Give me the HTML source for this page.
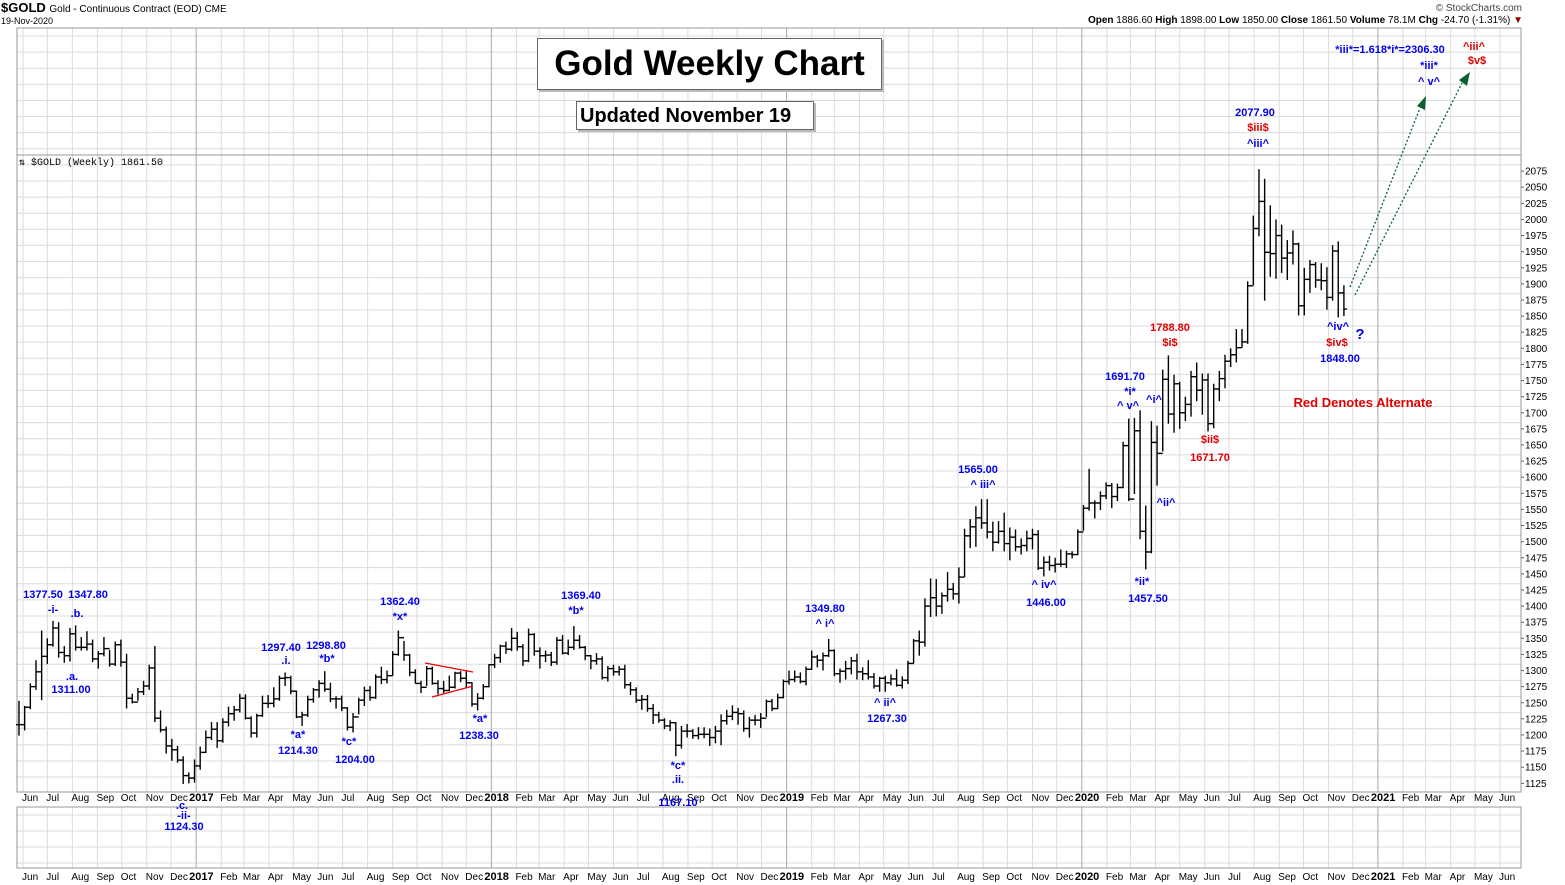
<!DOCTYPE html>
<html><head><meta charset="utf-8">
<style>
body{margin:0;background:#fff;width:1565px;height:885px;overflow:hidden;position:relative;font-family:"Liberation Sans",sans-serif}
.t{position:absolute;white-space:nowrap}
.ann{position:absolute;white-space:nowrap;font:bold 11px "Liberation Sans",sans-serif;color:#0000ee;transform:translateX(-50%)}
.red{color:#e00000}
</style></head><body>
<div class="t" style="left:1px;top:0px;font:bold 13px 'Liberation Sans',sans-serif">$GOLD <span style="font-weight:normal;font-size:10px">Gold - Continuous Contract (EOD) CME</span></div>
<div class="t" style="left:1px;top:16px;font-size:9px">19-Nov-2020</div>
<div class="t" style="right:43px;top:3px;font-size:10px;color:#444">© StockCharts.com</div>
<div class="t" style="right:42px;top:15px;font-size:10px"><b>Open</b> 1886.60 <b>High</b> 1898.00 <b>Low</b> 1850.00 <b>Close</b> 1861.50 <b>Volume</b> 78.1M <b>Chg</b> -24.70 (-1.31%) <span style="color:#900">▼</span></div>
<svg id="chart" width="1565" height="885" style="position:absolute;left:0;top:0"></svg>
<div class="t" style="left:537px;top:38px;width:343px;height:50px;border:1px solid #666;box-shadow:2px 2px 0 #bbb;background:#fff;font:bold 35px 'Liberation Sans',sans-serif;text-align:center;line-height:50px">Gold Weekly Chart</div>
<div class="t" style="left:576px;top:101px;width:238px;height:29px;border:1px solid #666;box-shadow:2px 2px 0 #bbb;background:#fff;font:bold 20px 'Liberation Sans',sans-serif;line-height:29px;padding-left:3px;box-sizing:border-box">Updated November 19</div>
<div class="t" style="left:19px;top:157px;font:10px 'Liberation Mono',monospace">⇅ $GOLD (Weekly) 1861.50</div>
<script>
const closes=[1216,1243,1275,1298,1322,1340,1366,1328,1323,1357,1336,1336,1341,1318,1326,1334,1310,1340,1313,1257,1251,1267,1276,1304,1226,1208,1183,1177,1161,1137,1133,1152,
1173,1196,1209,1191,1220,1233,1239,1257,1226,1203,1230,1249,1249,1256,1288,1289,1268,1228,1231,1255,1270,1280,1271,1256,1256,1242,1212,1228,1254,1269,1258,1290,1286,1292,1325,1351,1324,1297,1280,1274,1303,1280,1272,1269,1274,1296,1288,1281,1248,1257,1275,1309,
1320,1338,1333,1350,1337,1315,1356,1330,1323,1324,1313,1347,1327,1336,1347,1336,1323,1315,1318,1289,1303,1298,1302,1278,1270,1254,1255,1241,1231,1223,1214,1219,1184,1206,1206,1199,1201,1201,1196,1206,1222,1229,1235,1233,1210,1223,1223,1226,1252,1241,1258,1283,
1286,1290,1283,1302,1321,1316,1323,1331,1295,1299,1303,1315,1298,1295,1290,1276,1288,1281,1287,1277,1285,1311,1346,1344,1400,1413,1400,1416,1426,1419,1445,1509,1523,1537,1529,1515,1499,1516,1497,1507,1492,1494,1505,1511,1459,1468,1463,1465,1465,1481,1480,1515,
1552,1560,1560,1571,1587,1570,1584,1649,1566,1672,1516,1484,1654,1637,1752,1698,1745,1700,1713,1756,1735,1751,1683,1737,1753,1780,1790,1801,1810,1897,1986,2028,1949,1947,1975,1940,1948,1962,1866,1907,1930,1906,1905,1879,1951,1886,1861];
const highs=[1253,1245,1280,1316,1362,1350,1377,1375,1338,1366,1370,1352,1361,1348,1330,1352,1332,1345,1348,1326,1264,1273,1284,1309,1338,1238,1213,1194,1183,1167,1142,1162,
1182,1207,1220,1220,1226,1244,1245,1264,1263,1229,1233,1261,1262,1274,1292,1297,1292,1269,1236,1261,1273,1285,1299,1281,1260,1261,1243,1234,1258,1275,1276,1294,1306,1300,1330,1362,1346,1326,1302,1284,1307,1306,1285,1284,1292,1298,1299,1299,1282,1265,1279,1310,
1326,1340,1345,1366,1360,1341,1365,1358,1336,1331,1329,1352,1355,1348,1369,1355,1338,1324,1327,1322,1307,1309,1307,1309,1282,1274,1262,1262,1248,1236,1226,1223,1220,1214,1217,1209,1212,1212,1210,1214,1232,1239,1246,1242,1238,1228,1231,1234,1255,1256,1264,1286,
1300,1300,1297,1306,1331,1324,1328,1349,1333,1303,1315,1321,1326,1305,1316,1296,1290,1292,1294,1302,1291,1315,1349,1362,1412,1443,1442,1421,1453,1436,1460,1520,1535,1555,1566,1566,1531,1532,1545,1522,1519,1505,1517,1520,1518,1477,1478,1475,1488,1486,1485,1519,
1557,1613,1564,1578,1592,1591,1590,1655,1691,1692,1704,1556,1687,1680,1767,1789,1759,1748,1725,1765,1778,1761,1761,1745,1765,1790,1800,1830,1830,1904,2006,2078,2063,2022,2000,1992,1968,1983,1964,1925,1937,1934,1932,1926,1960,1966,1898];
const lows=[1199,1207,1240,1270,1254,1310,1337,1320,1312,1314,1331,1331,1331,1313,1303,1322,1306,1307,1306,1241,1249,1253,1262,1270,1220,1204,1171,1160,1157,1124,1125,1126,
1146,1172,1192,1180,1188,1213,1222,1235,1224,1196,1196,1228,1242,1243,1253,1276,1263,1226,1214,1228,1250,1258,1267,1251,1241,1237,1207,1204,1232,1245,1253,1256,1279,1280,1292,1323,1315,1291,1280,1265,1276,1278,1263,1265,1268,1272,1282,1274,1244,1238,1255,1274,
1304,1312,1326,1330,1331,1307,1313,1323,1303,1313,1307,1309,1325,1324,1332,1334,1316,1302,1309,1286,1283,1292,1292,1272,1262,1250,1239,1236,1217,1219,1209,1206,1167,1179,1196,1194,1193,1195,1183,1187,1184,1216,1223,1216,1205,1196,1215,1211,1228,1237,1240,1257,
1278,1282,1280,1277,1301,1305,1300,1321,1291,1281,1286,1294,1286,1285,1286,1272,1267,1267,1277,1275,1272,1279,1311,1323,1337,1383,1384,1388,1407,1410,1404,1445,1490,1492,1520,1505,1485,1497,1485,1471,1485,1480,1485,1488,1456,1446,1455,1452,1461,1459,1474,1479,
1517,1548,1536,1549,1566,1552,1563,1583,1563,1574,1504,1457,1482,1587,1640,1683,1669,1675,1687,1694,1718,1697,1671,1676,1718,1738,1771,1778,1801,1807,1898,1974,1874,1911,1908,1917,1906,1930,1851,1851,1886,1894,1890,1860,1874,1848,1850];
const priceTicks=[1125,1150,1175,1200,1225,1250,1275,1300,1325,1350,1375,1400,1425,1450,1475,1500,1525,1550,1575,1600,1625,1650,1675,1700,1725,1750,1775,1800,1825,1850,1875,1900,1925,1950,1975,2000,2025,2050,2075];
const monthNames=["Jan","Feb","Mar","Apr","May","Jun","Jul","Aug","Sep","Oct","Nov","Dec"];

const svg=document.getElementById('chart');
const NS='http://www.w3.org/2000/svg';
const L=17,R=1521,TOP=28,BOT=792;
const start=Date.UTC(2016,4,27), WEEK=7*864e5, X0=19, STEP=5.662;
function y(v){return 783.3-(v-1125)*0.6444;}
function xi(i){return X0+i*STEP;}
function xd(t){return X0+(t-start)/WEEK*STEP;}
function mk(tag,attrs,parent){const e=document.createElementNS(NS,tag);for(const k in attrs)e.setAttribute(k,attrs[k]);(parent||svg).appendChild(e);return e;}

const grid=mk('g',{stroke:'#dcdcdc','stroke-width':1});


for(let gy=TOP+8;gy<BOT;gy+=16.11){mk('line',{x1:L,x2:R,y1:gy,y2:gy},grid);}
for(let gy=815;gy<868;gy+=16){mk('line',{x1:L,x2:R,y1:gy,y2:gy},grid);}
const months=[];
for(let yr=2016;yr<=2021;yr++)for(let m=0;m<12;m++){const t=Date.UTC(yr,m,1);if(t<Date.UTC(2016,5,1)||t>Date.UTC(2021,5,1))continue;months.push({t,yr,m});}
months.forEach(mo=>{const x=xd(mo.t);const c=mo.m===0?'#aaa':'#dcdcdc';
mk('line',{x1:x,x2:x,y1:TOP,y2:BOT,stroke:c},svg);mk('line',{x1:x,x2:x,y1:807,y2:868,stroke:c},svg);});
mk('line',{x1:L,x2:R,y1:155,y2:155,stroke:'#999'});
const f1=mk('rect',{x:L,y:TOP,width:R-L,height:BOT-TOP,fill:'none',stroke:'#999'});


const f2=mk('rect',{x:L,y:807,width:R-L,height:61,fill:'none',stroke:'#999'});


priceTicks.forEach(p=>{const t=mk('text',{x:1525,y:y(p)+3.5,'font-size':10,'font-family':'Liberation Sans, sans-serif'});t.textContent=p;


mk('line',{x1:R,x2:R+3,y1:y(p),y2:y(p),stroke:'#666'});});
[801,880].forEach(ly=>{months.forEach(mo=>{const x=xd(mo.t);const isY=mo.m===0;const t=mk('text',{x:isY?x-7:x-1,y:ly,'font-size':isY?11:10,'font-weight':isY?'bold':'normal','font-family':'Liberation Sans, sans-serif'});
t.textContent=isY?mo.yr:monthNames[mo.m];

});});
const bars=mk('g',{stroke:'#000','stroke-width':1.4});


closes.forEach((c,i)=>{const x=xi(i);const o=i>0?closes[i-1]:c;
const g=mk('g',{},bars);


mk('line',{x1:x,x2:x,y1:y(highs[i]),y2:y(lows[i])},g);
mk('line',{x1:x-3,x2:x,y1:y(o),y2:y(o)},g);
mk('line',{x1:x,x2:x+3,y1:y(c),y2:y(c)},g);});
const tri=mk('g',{stroke:'#e00','stroke-width':1.2});


mk('line',{x1:425,y1:663,x2:473,y2:672},tri);mk('line',{x1:432,y1:697,x2:473,y2:686},tri);
const ar=mk('g',{stroke:'#0a6030','stroke-width':1.3,'stroke-dasharray':'2,2',fill:'none'});


mk('line',{x1:1350,y1:287,x2:1420,y2:108},ar);mk('line',{x1:1355,y1:295,x2:1462,y2:83},ar);
mk('polygon',{points:'1417,106 1426,96 1425,110',fill:'#0a6030',stroke:'none'});
mk('polygon',{points:'1459,80 1470,72 1467,86',fill:'#0a6030',stroke:'none'});
</script>
<div>
<div class="ann" style="left:43px;top:589px">1377.50</div>
<div class="ann" style="left:88px;top:589px">1347.80</div>
<div class="ann" style="left:53px;top:604px">-i-</div>
<div class="ann" style="left:77px;top:608px">.b.</div>
<div class="ann" style="left:72px;top:671px">.a.</div>
<div class="ann" style="left:71px;top:684px">1311.00</div>
<div class="ann" style="left:281px;top:642px">1297.40</div>
<div class="ann" style="left:286px;top:655px">.i.</div>
<div class="ann" style="left:326px;top:640px">1298.80</div>
<div class="ann" style="left:327px;top:653px">*b*</div>
<div class="ann" style="left:298px;top:729px">*a*</div>
<div class="ann" style="left:298px;top:745px">1214.30</div>
<div class="ann" style="left:349px;top:736px">*c*</div>
<div class="ann" style="left:355px;top:754px">1204.00</div>
<div class="ann" style="left:400px;top:596px">1362.40</div>
<div class="ann" style="left:400px;top:611px">*x*</div>
<div class="ann" style="left:480px;top:713px">*a*</div>
<div class="ann" style="left:479px;top:730px">1238.30</div>
<div class="ann" style="left:581px;top:590px">1369.40</div>
<div class="ann" style="left:576px;top:605px">*b*</div>
<div class="ann" style="left:678px;top:760px">*c*</div>
<div class="ann" style="left:678px;top:774px">.ii.</div>
<div class="ann" style="left:678px;top:797px">1167.10</div>
<div class="ann" style="left:182px;top:800px">.c.</div>
<div class="ann" style="left:184px;top:810px">-ii-</div>
<div class="ann" style="left:184px;top:821px">1124.30</div>
<div class="ann" style="left:825px;top:603px">1349.80</div>
<div class="ann" style="left:825px;top:618px">^ i^</div>
<div class="ann" style="left:885px;top:697px">^ ii^</div>
<div class="ann" style="left:887px;top:713px">1267.30</div>
<div class="ann" style="left:978px;top:464px">1565.00</div>
<div class="ann" style="left:983px;top:479px">^ iii^</div>
<div class="ann" style="left:1044px;top:579px">^ iv^</div>
<div class="ann" style="left:1046px;top:597px">1446.00</div>
<div class="ann" style="left:1125px;top:371px">1691.70</div>
<div class="ann" style="left:1130px;top:386px">*i*</div>
<div class="ann" style="left:1128px;top:400px">^ v^</div>
<div class="ann" style="left:1154px;top:394px">^i^</div>
<div class="ann" style="left:1166px;top:497px">^ii^</div>
<div class="ann" style="left:1142px;top:576px">*ii*</div>
<div class="ann" style="left:1148px;top:593px">1457.50</div>
<div class="ann red" style="left:1170px;top:322px">1788.80</div>
<div class="ann red" style="left:1170px;top:337px">$i$</div>
<div class="ann red" style="left:1210px;top:434px">$ii$</div>
<div class="ann red" style="left:1210px;top:452px">1671.70</div>
<div class="ann" style="left:1255px;top:107px">2077.90</div>
<div class="ann red" style="left:1258px;top:122px">$iii$</div>
<div class="ann" style="left:1258px;top:138px">^iii^</div>
<div class="ann" style="left:1338px;top:321px">^iv^</div>
<div class="ann red" style="left:1337px;top:337px">$iv$</div>
<div class="ann" style="left:1340px;top:353px">1848.00</div>
<div class="ann" style="left:1360px;top:326px;font-size:15px">?</div>
<div class="ann red" style="left:1363px;top:395px;font-size:13px">Red Denotes Alternate</div>
<div class="ann" style="left:1390px;top:44px">*iii*=1.618*i*=2306.30</div>
<div class="ann" style="left:1429px;top:60px">*iii*</div>
<div class="ann" style="left:1429px;top:76px">^ v^</div>
<div class="ann red" style="left:1474px;top:41px">^iii^</div>
<div class="ann red" style="left:1477px;top:55px">$v$</div>
</div>
</body></html>
